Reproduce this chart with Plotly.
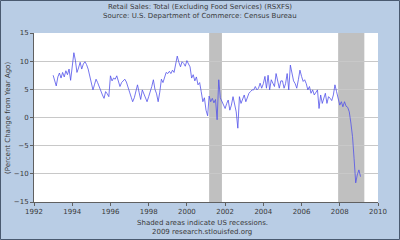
import plotly.graph_objects as go
import pandas as pd

# Monthly year-over-year % change, Jan 1993 .. Feb 2009
values = [
    # 1993
    7.5, 6.6, 5.6, 7.2, 7.9, 7.0, 8.0, 7.2, 8.3, 7.6, 8.6, 6.6,
    # 1994
    9.0, 11.5, 10.2, 8.0, 8.8, 9.8, 8.6, 9.5, 9.9, 9.4, 8.6, 7.5,
    # 1995
    6.0, 4.9, 5.8, 6.8, 6.2, 5.4, 4.5, 4.0, 3.4, 4.6, 4.2, 3.7,
    # 1996
    7.4, 6.5, 7.0, 6.8, 7.4, 6.2, 5.5, 6.2, 6.5, 6.8, 6.3, 5.2,
    # 1997
    4.5, 3.6, 2.8, 3.5, 4.5, 5.8, 4.5, 3.2, 4.9, 4.2, 3.5, 2.8,
    # 1998
    3.7, 4.5, 5.5, 6.7, 5.0, 4.2, 2.8, 4.5, 6.8, 6.2, 7.0, 8.0,
    # 1999
    7.8, 8.2, 7.8, 8.4, 8.0, 9.5, 10.9, 9.8, 9.0, 9.9, 9.6, 9.1,
    # 2000
    10.1, 9.5, 9.0, 7.0, 7.6, 6.5, 7.2, 5.8, 6.2, 4.6, 2.8, 3.5,
    # 2001
    1.3, 0.3, 3.8, 2.8, 3.4, 2.6, 3.2, -0.4, 6.7, 3.5, 2.8, 2.2,
    # 2002
    1.6, 2.5, 3.1, 1.3, 2.2, 3.7, 2.5, 1.0, -1.9, 3.7, 2.5, 3.2,
    # 2003
    4.0, 2.8, 3.6, 4.3, 4.6, 4.9, 4.9, 5.5, 4.9, 5.2, 6.1, 5.2,
    # 2004
    6.0, 7.3, 5.2, 7.5, 4.9, 6.7, 6.1, 5.5, 7.8, 6.4, 5.2, 6.5,
    # 2005
    6.5, 5.2, 6.0, 7.8, 4.9, 9.3, 8.0, 6.5, 6.0, 5.2, 6.7, 8.4,
    # 2006
    7.3, 6.4, 6.7, 6.0, 4.9, 5.5, 4.3, 4.9, 4.0, 4.4, 4.9, 1.6,
    # 2007
    4.0, 2.5, 3.2, 4.3, 2.5, 3.7, 3.4, 3.0, 4.0, 5.8, 4.6, 3.4,
    # 2008
    2.2, 2.8, 1.9, 2.8, 2.0, 1.8, 1.0, -1.0, -3.4, -7.3, -11.6, -10.2,
    # 2009
    -9.3, -10.5,
]
dates = pd.date_range("1993-01-01", periods=len(values), freq="MS")

recession_starts = ["2001-03-01", "2007-12-01"]
recession_ends = ["2001-11-01", "2009-04-15"]

x_ticks = [f"{y}-01-01" for y in range(1992, 2011, 2)]
x_tick_labels = [str(y) for y in range(1992, 2011, 2)]
y_ticks = [-15, -10, -5, 0, 5, 10, 15]

title_lines = ["Retail Sales: Total (Excluding Food Services) (RSXFS)",
               "Source: U.S. Department of Commerce: Census Bureau"]
footer_lines = ["Shaded areas indicate US recessions.",
                "2009 research.stlouisfed.org"]
y_title = "(Percent Change from Year Ago)"

W, H = 400, 240
ML, MR, MT, MB = 34, 22, 33, 38
pw, ph = W - ML - MR, H - MT - MB

font = dict(family="DejaVu Sans", size=7, color="#3A3A3A")

fig = go.Figure()
fig.add_trace(go.Scatter(x=dates, y=values, mode="lines",
                         line=dict(color="#5252EA", width=0.8),
                         hoverinfo="skip", showlegend=False))

shapes = []
for s, e in zip(recession_starts, recession_ends):
    shapes.append(dict(type="rect", xref="x", yref="paper", x0=s, x1=e, y0=0, y1=1,
                       fillcolor="#C0C0C0", line=dict(width=0), layer="below"))
# outer border of the image
shapes.append(dict(type="rect", xref="paper", yref="paper",
                   x0=(-ML + 0.5) / pw, x1=(W - ML - 0.5) / pw,
                   y0=(-MB + 0.5) / ph, y1=(H - MB - 0.5) / ph,
                   line=dict(color="#4A5A70", width=1), fillcolor="rgba(0,0,0,0)"))

annotations = []
for i, t in enumerate(title_lines):
    annotations.append(dict(text=t, xref="paper", yref="paper",
                            x=(200 - ML) / pw, y=(H - MB - (7 + 9 * i)) / ph,
                            xanchor="center", yanchor="middle", showarrow=False, font=font))
for i, t in enumerate(footer_lines):
    annotations.append(dict(text=t, xref="paper", yref="paper",
                            x=(202 - ML) / pw, y=(H - MB - (223 + 9 * i)) / ph,
                            xanchor="center", yanchor="middle", showarrow=False, font=font))
annotations.append(dict(text=y_title, xref="paper", yref="paper",
                        x=(8 - ML) / pw, y=(H - MB - 118) / ph, textangle=-90,
                        xanchor="center", yanchor="middle", showarrow=False, font=font))

fig.update_layout(
    width=W, height=H,
    margin=dict(l=ML, r=MR, t=MT, b=MB),
    paper_bgcolor="#B9CDE5", plot_bgcolor="white",
    font=font,
    shapes=shapes, annotations=annotations,
    xaxis=dict(range=["1992-01-01", "2010-01-01"], tickvals=x_ticks, ticktext=x_tick_labels,
               showgrid=False, zeroline=False, showline=True, linecolor="#606060", linewidth=1,
               ticks="outside", ticklen=3, tickcolor="#606060", tickfont=font),
    yaxis=dict(range=[-15, 15], tickvals=y_ticks, showgrid=True, gridcolor="#C8C8C8",
               gridwidth=1, zeroline=False, showline=True, linecolor="#606060", linewidth=1,
               ticks="outside", ticklen=3, tickcolor="#606060", tickfont=font),
)

fig.write_html("out.html")
